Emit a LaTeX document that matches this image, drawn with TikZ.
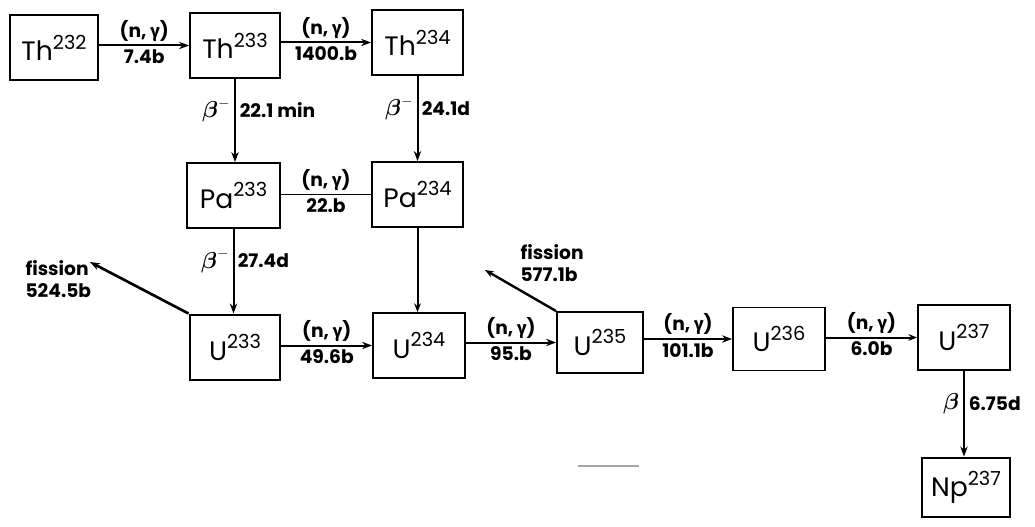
\documentclass[tikz,border=0pt]{standalone}
\usepackage{fontspec}
\setmainfont{Poppins}
\newfontfamily\grk{Fira Sans}
\usepackage{amsmath}
\usetikzlibrary{arrows.meta}
\newcommand{\iso}[2]{#1\raisebox{0.42em}{\fontsize{14.5}{14.5}\selectfont #2}}
\newcommand{\ngam}{(n, {\grk\bfseries γ})}
\newcommand{\betam}{{\fontsize{16}{16}\selectfont$\boldsymbol{\beta}^{-}$}}
\begin{document}
\begin{tikzpicture}[x=0.75pt,y=-0.75pt,
  box/.style={draw, line width=1.4pt, inner sep=0pt, font=\fontsize{20}{20}\selectfont},
  thickbox/.style={box, line width=2.2pt},
  arr/.style={line width=1.5pt, -{Stealth[length=7.5pt,width=5.5pt]}},
  openarr/.style={line width=1.5pt, -{Stealth[open,length=6.5pt,width=5pt]}},
  lab/.style={font=\bfseries\fontsize{14}{17}\selectfont, inner sep=2.5pt}]
\useasboundingbox (0,0) rectangle (1035,527);

\node[thickbox, minimum width=66pt, minimum height=48.75pt] (th232) at (54,47.5) {\iso{Th}{232}};
\node[box, minimum width=67.5pt, minimum height=48.75pt] (th233) at (235,45.5) {\iso{Th}{233}};
\node[box, minimum width=68.25pt, minimum height=48.75pt] (th234) at (417.5,42.5) {\iso{Th}{234}};
\node[box, minimum width=69.75pt, minimum height=48.75pt] (pa233) at (233.5,195.5) {\iso{Pa}{233}};
\node[box, minimum width=68.25pt, minimum height=48.75pt] (pa234) at (417.5,194.5) {\iso{Pa}{234}};
\node[thickbox, minimum width=67.5pt, minimum height=48.75pt] (u233) at (235,347.5) {\iso{U}{233}};
\node[box, minimum width=69pt, minimum height=48.75pt] (u234) at (419,345.5) {\iso{U}{234}};
\node[box, minimum width=64.5pt, minimum height=45.75pt] (u235) at (600,342.5) {\iso{U}{235}};
\node[box, minimum width=69pt, minimum height=47.25pt] (u236) at (779,339) {\iso{U}{236}};
\node[box, minimum width=69pt, minimum height=48.75pt] (u237) at (964,337.5) {\iso{U}{237}};
\node[thickbox, minimum width=66pt, minimum height=44.25pt] (np237) at (966,487.5) {\iso{Np}{237}};

% horizontal (n,gamma) arrows
\draw[arr] (th232.east |- th233) -- node[lab,above]{\ngam} node[lab,below]{7.4b} (th233.west);
\draw[arr] (th233.east |- th234) -- node[lab,above]{\ngam} node[lab,below]{1400.b} (th234.west);
\draw[line width=1.2pt] (pa233.east |- pa234) -- node[lab,above]{\ngam} node[lab,below]{22.b} (pa234.west);
\draw[arr] (u233.east |- u234) -- node[lab,above]{\ngam} node[lab,below]{49.6b} (u234.west);
\draw[arr] (u234.east |- u235) -- node[lab,above]{\ngam} node[lab,below]{95.b} (u235.west);
\draw[arr] (u235.east |- u236) -- node[lab,above]{\ngam} node[lab,below]{101.1b} (u236.west);
\draw[openarr] (u236.east |- u237) -- node[lab,above]{\ngam} node[lab,below]{6.0b} (u237.west);

% vertical decays
\draw[arr, line width=2.2pt] (th233.south) -- node[lab,left,pos=0.38]{\betam} node[lab,right,pos=0.38]{22.1 min} (th233.south |- pa233.north);
\draw[arr] (th234.south) -- node[lab,left,pos=0.38]{\betam} node[lab,right,pos=0.38]{24.1d} (th234.south |- pa234.north);
\draw[arr] (pa233.south) -- node[lab,left,pos=0.38]{\betam} node[lab,right,pos=0.38]{27.4d} (pa233.south |- u233.north);
\draw[openarr] (pa234.south) -- (pa234.south |- u234.north);
\draw[arr, line width=2.2pt] (u237.south) -- node[lab,left,pos=0.38]{\fontsize{16}{16}\selectfont$\boldsymbol{\beta}$} node[lab,right,pos=0.38]{6.75d} (u237.south |- np237.north);

% fission
\coordinate (f1) at (90,262);
\draw[arr, line width=2pt] (u233.north west) -- (f1);
\node[lab, align=left, anchor=west] (fis1) at (22,279) {fission\\524.5b};
\coordinate (f2) at (485,270);
\draw[openarr, line width=1.8pt] (u235.north west) -- (f2);
\node[lab, align=left, anchor=west] (fis2) at (517,263) {fission\\577.1b};

% stray mark
\draw[gray!70, line width=1.2pt] (578,466) -- (639,466);
\end{tikzpicture}
\end{document}
